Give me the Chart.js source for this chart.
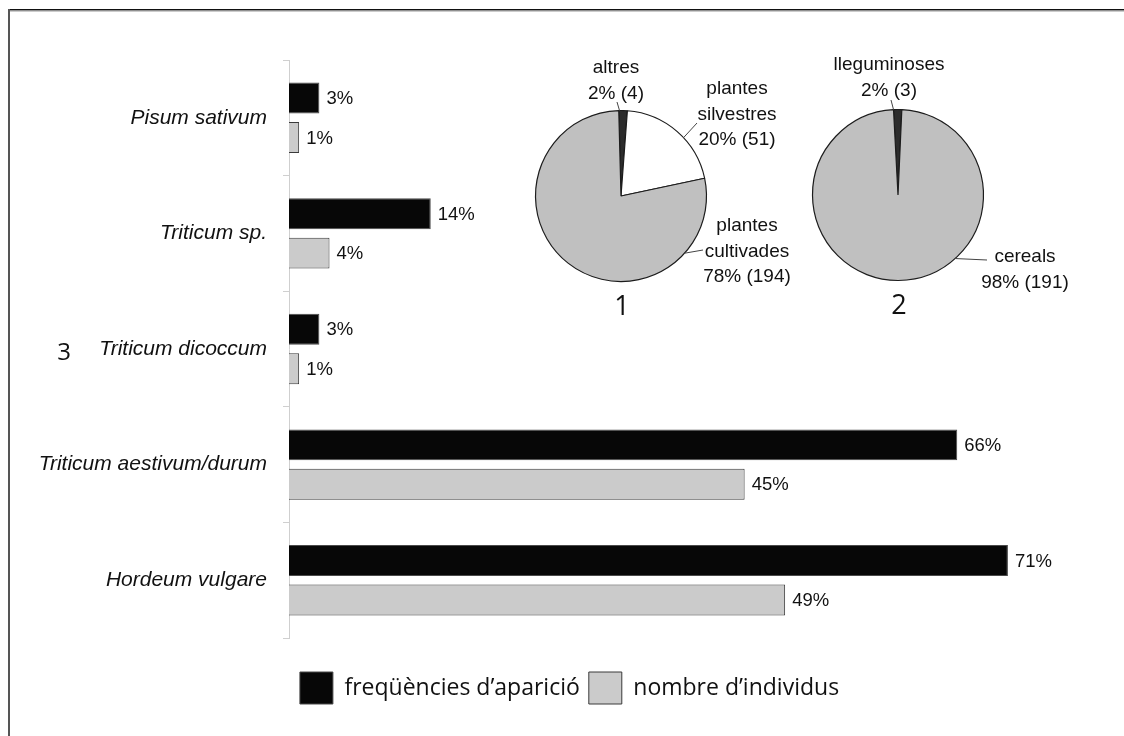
<!DOCTYPE html>
<html>
<head>
<meta charset="utf-8">
<title>Restes carpològiques</title>
<script src="https://cdn.jsdelivr.net/npm/chart.js@4.4.0/dist/chart.umd.min.js"></script>
<style>
  html, body { margin: 0; padding: 0; background: #fff; }
  #wrap { position: relative; width: 1124px; height: 736px; overflow: hidden; }
  #bars { position: absolute; left: 0; top: 0; }
  #pie1 { position: absolute; left: 500px; top: 40px; }
  #pie2 { position: absolute; left: 780px; top: 40px; }
</style>
</head>
<body>
<div id="wrap">
  <canvas id="bars" width="1124" height="736"></canvas>
  <canvas id="pie1" width="320" height="290"></canvas>
  <canvas id="pie2" width="320" height="290"></canvas>
</div>
<script>
// Taxa (panel 3) and their percentages
const categories = ['Pisum sativum', 'Triticum sp.', 'Triticum dicoccum', 'Triticum aestivum/durum', 'Hordeum vulgare'];
const freqPct = [3, 14, 3, 66, 71];
const indivPct = [1, 4, 1, 45, 49];
const seriesNames = ['freqüències d’aparició', 'nombre d’individus'];

// Panel 1: plant groups
const pie1Names = ['altres', 'plantes silvestres', 'plantes cultivades'];
const pie1Counts = [4, 51, 194];
const pie1Pct = [2, 20, 78];

// Panel 2: cultivated plants
const pie2Names = ['lleguminoses', 'cereals'];
const pie2Counts = [3, 191];
const pie2Pct = [2, 98];

const SANS = '"Liberation Sans", Arial, sans-serif';
const HUMANIST = '"Open Sans", "Noto Sans", sans-serif';

// Thin frame along the top and left edges
const frame = {
  id: 'frame',
  beforeDraw(chart) {
    const ctx = chart.ctx;
    ctx.save();
    ctx.fillStyle = '#111';
    ctx.fillRect(8, 9, chart.width - 8, 1.5);
    ctx.fillStyle = '#9a9a9a';
    ctx.fillRect(8, 10.5, chart.width - 8, 1);
    ctx.fillStyle = '#555';
    ctx.fillRect(8, 9, 2, chart.height - 9);
    ctx.restore();
  }
};

// Percent labels at the end of each bar, plus the panel number
const barValues = {
  id: 'barValues',
  afterDatasetsDraw(chart) {
    const ctx = chart.ctx;
    ctx.save();
    ctx.font = '18.5px ' + SANS;
    ctx.fillStyle = '#111';
    ctx.textBaseline = 'middle';
    ctx.textAlign = 'left';
    chart.data.datasets.forEach((ds, i) => {
      chart.getDatasetMeta(i).data.forEach((bar, j) => {
        ctx.fillText(ds.data[j] + '%', bar.x + 7, bar.y + 1);
      });
    });
    const yMid = chart.scales.y.getPixelForValue(2);
    ctx.font = '24px ' + HUMANIST;
    ctx.textAlign = 'center';
    ctx.fillText('3', 64, yMid + 4);
    ctx.restore();
  }
};

// Slice labels with leader lines and the panel number under each pie
const pieLabels = {
  id: 'pieLabels',
  afterDatasetsDraw(chart, args, opts) {
    const ctx = chart.ctx;
    const arc0 = chart.getDatasetMeta(0).data[0];
    const cx = arc0.x, cy = arc0.y, r = arc0.outerRadius;
    const ds = chart.data.datasets[0];
    ctx.save();
    ctx.strokeStyle = '#444';
    ctx.lineWidth = 1;
    ctx.fillStyle = '#111';
    ctx.textAlign = 'center';
    ctx.textBaseline = 'middle';
    ctx.font = '19px ' + SANS;
    chart.data.labels.forEach((name, i) => {
      const L = opts.layout[i];
      const lines = name.split(' ').concat([opts.pct[i] + '% (' + ds.data[i] + ')']);
      lines.forEach((t, k) => ctx.fillText(t, cx + L.x, cy + L.y + k * 25.5));
      const a = (L.angle - 90) * Math.PI / 180;
      ctx.beginPath();
      ctx.moveTo(cx + r * Math.cos(a), cy + r * Math.sin(a));
      ctx.lineTo(cx + L.ex, cy + L.ey);
      ctx.stroke();
    });
    ctx.font = '27px ' + HUMANIST;
    ctx.fillText(opts.panel, cx + 1, cy + 111);
    ctx.restore();
  }
};

function makePie(id, names, counts, pct, colors, rotation, pad, layout, panel) {
  return new Chart(document.getElementById(id), {
    type: 'pie',
    data: {
      labels: names,
      datasets: [{ data: counts, backgroundColor: colors, borderColor: '#1c1c1c', borderWidth: 1.2 }]
    },
    options: {
      responsive: false,
      animation: false,
      events: [],
      rotation: rotation,
      radius: 85.5,
      layout: { padding: pad },
      plugins: {
        legend: { display: false },
        tooltip: { enabled: false },
        pieLabels: { layout: layout, pct: pct, panel: panel }
      }
    },
    plugins: [pieLabels]
  });
}

function draw() {
  new Chart(document.getElementById('bars'), {
    type: 'bar',
    data: {
      labels: categories,
      datasets: [
        { label: seriesNames[0], data: freqPct, backgroundColor: '#070707', borderColor: '#4a4a4a', borderWidth: 1,
          categoryPercentage: 0.682, barPercentage: 0.785 },
        { label: seriesNames[1], data: indivPct, backgroundColor: '#cbcbcb', borderColor: '#3a3a3a', borderWidth: 1,
          categoryPercentage: 0.682, barPercentage: 0.785 }
      ]
    },
    options: {
      indexAxis: 'y',
      responsive: false,
      animation: false,
      events: [],
      layout: { padding: { left: 40, right: 25, top: 60, bottom: 22 } },
      scales: {
        x: {
          min: 0, max: 80,
          grid: { display: false },
          border: { display: false },
          ticks: { display: false },
          afterFit: s => { s.height = 25; }
        },
        y: {
          grid: { drawOnChartArea: false, tickLength: 6, color: '#cfcfcf', offset: true },
          border: { color: '#cfcfcf', width: 1 },
          ticks: { padding: 16, color: '#111', font: { family: SANS, size: 21, style: 'italic' } },
          afterFit: s => { s.width = 249; }
        }
      },
      plugins: {
        legend: {
          position: 'bottom',
          labels: { boxWidth: 33, boxHeight: 32, padding: 9, color: '#111', font: { family: HUMANIST, size: 23 } }
        },
        tooltip: { enabled: false }
      }
    },
    plugins: [frame, barValues]
  });

  makePie('pie1', pie1Names, pie1Counts, pie1Pct, ['#2c2c2c', '#ffffff', '#c0c0c0'], -1.5,
    { left: 0, right: 78, top: 60, bottom: 38 },
    [
      { x: -5, y: -128, angle: -1, ex: -4, ey: -94 },
      { x: 116, y: -107, angle: 47, ex: 76, ey: -73 },
      { x: 126, y: 30, angle: 132, ex: 82, ey: 54 }
    ], '1');

  makePie('pie2', pie2Names, pie2Counts, pie2Pct, ['#2c2c2c', '#c0c0c0'], -3,
    { left: 0, right: 84, top: 60, bottom: 40 },
    [
      { x: -9, y: -130, angle: -3, ex: -7, ey: -95 },
      { x: 127, y: 62, angle: 138, ex: 89, ey: 65 }
    ], '2');
}

Promise.all([
  document.fonts.load('italic 21px "Liberation Sans"'),
  document.fonts.load('19px "Liberation Sans"'),
  document.fonts.load('23px "Open Sans"')
]).then(draw, draw);
</script>
</body>
</html>
